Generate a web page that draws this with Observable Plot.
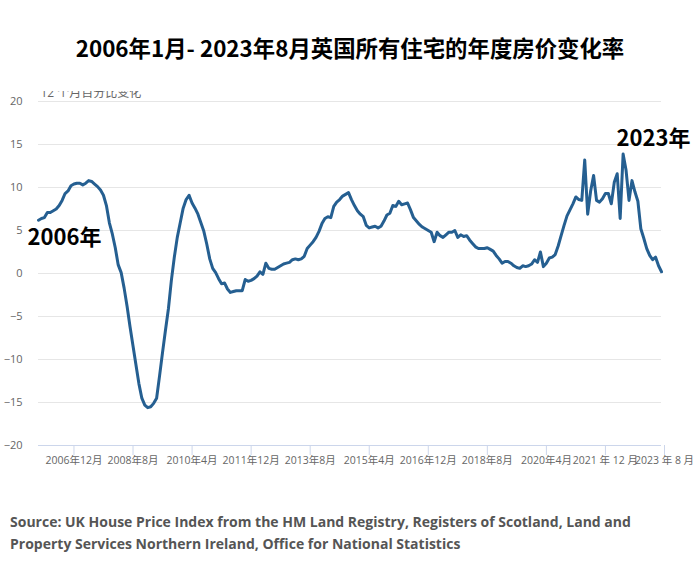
<!DOCTYPE html>
<html>
<head>
<meta charset="utf-8">
<script src="https://cdn.jsdelivr.net/npm/d3@7"></script>
<script src="https://cdn.jsdelivr.net/npm/@observablehq/plot@0.6"></script>
<style>
  html, body { margin: 0; padding: 0; background: #fff; }
  #wrap { width: 700px; height: 574px; position: relative; overflow: hidden; }
  #title { height: 91px; line-height: 94px; text-align: center; font-family: "Noto Sans CJK SC", "Open Sans", sans-serif; font-weight: bold; font-size: 22.4px; color: #000; }
  #chart svg { display: block; }
  #caption { margin-top: 31px; padding-left: 10px; font-family: "Open Sans", "Noto Sans CJK SC", sans-serif; font-weight: bold; font-size: 14px; line-height: 22px; color: #555; }
</style>
</head>
<body>
<div id="wrap">
  <div id="title">2006年1月- 2023年8月英国所有住宅的年度房价变化率</div>
  <div id="chart"></div>
  <div id="caption">Source: UK House Price Index from the HM Land Registry, Registers of Scotland, Land and<br>Property Services Northern Ireland, Office for National Statistics</div>
</div>
<script>
// Monthly annual % change in UK house prices, Jan 2006 – Aug 2023
const startYear = 2006;
const hpiChange = [
  /* 2006 */ 6.2, 6.4, 6.5, 7.1, 7.1, 7.3, 7.5, 7.9, 8.5, 9.3, 9.6, 10.2,
  /* 2007 */ 10.4, 10.5, 10.5, 10.3, 10.5, 10.8, 10.7, 10.4, 10.1, 9.7, 9.1, 7.9,
  /* 2008 */ 5.9, 4.6, 3.0, 1.0, 0.1, -1.7, -3.8, -6.2, -8.4, -10.6, -12.8, -14.5,
  /* 2009 */ -15.3, -15.6, -15.5, -15.1, -14.5, -11.9, -9.2, -6.6, -4.1, -0.8, 1.9, 4.2,
  /* 2010 */ 5.9, 7.6, 8.6, 9.1, 8.2, 7.6, 6.9, 5.9, 4.9, 3.4, 1.7, 0.6,
  /* 2011 */ 0.1, -0.6, -1.2, -1.1, -1.8, -2.2, -2.1, -2.0, -2.0, -2.0, -0.7, -0.9,
  /* 2012 */ -0.8, -0.6, -0.3, 0.2, -0.1, 1.2, 0.6, 0.5, 0.5, 0.7, 0.9, 1.1,
  /* 2013 */ 1.2, 1.3, 1.6, 1.7, 1.6, 1.7, 2.0, 2.9, 3.3, 3.7, 4.2, 4.9,
  /* 2014 */ 5.8, 6.4, 6.6, 6.5, 7.8, 8.3, 8.6, 9.0, 9.2, 9.4, 8.6, 7.9,
  /* 2015 */ 7.3, 6.9, 6.6, 5.6, 5.3, 5.4, 5.5, 5.3, 5.5, 6.1, 6.8, 7.0,
  /* 2016 */ 7.9, 7.8, 8.4, 8.0, 8.1, 8.2, 7.4, 6.5, 6.1, 5.7, 5.4, 5.2,
  /* 2017 */ 5.0, 4.8, 3.7, 4.8, 4.4, 4.2, 4.5, 4.8, 4.8, 5.0, 4.2, 4.5,
  /* 2018 */ 4.3, 4.4, 3.9, 3.5, 3.1, 2.9, 2.9, 2.9, 3.0, 2.8, 2.6, 2.1,
  /* 2019 */ 1.7, 1.2, 1.4, 1.4, 1.2, 0.9, 0.7, 0.6, 0.9, 0.8, 0.9, 1.1,
  /* 2020 */ 1.6, 1.3, 2.5, 0.8, 1.2, 1.8, 1.9, 2.2, 3.2, 4.4, 5.6, 6.7,
  /* 2021 */ 7.4, 8.1, 8.9, 8.6, 8.5, 13.2, 6.9, 9.6, 11.4, 8.5, 8.3, 8.7,
  /* 2022 */ 9.3, 9.3, 8.1, 10.6, 11.6, 6.4, 13.9, 12.0, 8.5, 10.8, 9.5, 8.4,
  /* 2023 */ 5.2, 4.1, 2.9, 2.1, 1.6, 1.9, 0.9, 0.2
];

const yTicks = [-20, -15, -10, -5, 0, 5, 10, 15, 20];
const tickMonths = ["2006-12", "2008-08", "2010-04", "2011-12", "2013-08", "2015-04", "2016-12", "2018-08", "2020-04", "2021-12", "2023-08"];
const tickLabels = ["2006年12月", "2008年8月", "2010年4月", "2011年12月", "2013年8月", "2015年4月", "2016年12月", "2018年8月", "2020年4月", "2021 年 12 月", "2023 年 8 月"];
const yAxisTitle = "12 个月百分比变化";
const startLabel = { month: "2006-01", value: 4.1, label: "2006年" };
const endLabel = { month: "2023-08", value: 15.7, label: "2023年" };

const monthIndex = s => {
  const [y, m] = s.split("-").map(Number);
  return (y - startYear) * 12 + (m - 1);
};
const data = hpiChange.map((v, i) => ({ i, v }));
const tickIdx = tickMonths.map(monthIndex);
const labelByIdx = new Map(tickIdx.map((t, k) => [t, tickLabels[k]]));
const ann = a => [{ i: monthIndex(a.month), v: a.value, label: a.label }];
const annFont = '"Noto Sans CJK SC", "Open Sans", sans-serif';

const chart = Plot.plot({
  width: 700,
  height: 389,
  marginTop: 10,
  marginLeft: 38,
  marginRight: 39,
  marginBottom: 35,
  style: {
    fontFamily: '"Open Sans", "Noto Sans CJK SC", sans-serif',
    fontSize: "11px",
    color: "#666",
    background: "#fff",
    overflow: "hidden"
  },
  x: { domain: [0, hpiChange.length - 1] },
  y: { domain: [-20, 20] },
  marks: [
    Plot.gridY(yTicks.filter(t => t !== -20), { stroke: "#e6e6e6", strokeOpacity: 1 }),
    Plot.ruleY([-20], { stroke: "#ccd6eb" }),
    Plot.axisY(yTicks, { tickSize: 0, tickPadding: 16, label: null, fill: "#666", fontSize: 11 }),
    Plot.axisX(tickIdx, {
      tickSize: 10, tickPadding: 1, stroke: "#ccd6eb", strokeOpacity: 1,
      tickFormat: t => labelByIdx.get(t), label: null, fill: "#666", fontSize: 10.5, dx: 3
    }),
    Plot.lineY(data, { x: "i", y: "v", stroke: "#255f91", strokeWidth: 3, strokeLinejoin: "round", strokeLinecap: "round" }),
    Plot.text(ann(startLabel), {
      x: "i", y: "v", text: "label", textAnchor: "start", dx: -11,
      fontSize: 22, fontWeight: "bold", fill: "#000", fontFamily: annFont
    }),
    Plot.text(ann(endLabel), {
      x: "i", y: "v", text: "label", textAnchor: "end", dx: 29,
      fontSize: 22, fontWeight: "bold", fill: "#000", fontFamily: annFont
    }),
    Plot.text([yAxisTitle], {
      frameAnchor: "top-left", textAnchor: "start", lineAnchor: "top",
      dx: 2, dy: -13.5, fontSize: 12, fill: "#666"
    })
  ]
});
document.getElementById("chart").appendChild(chart);
</script>
</body>
</html>
